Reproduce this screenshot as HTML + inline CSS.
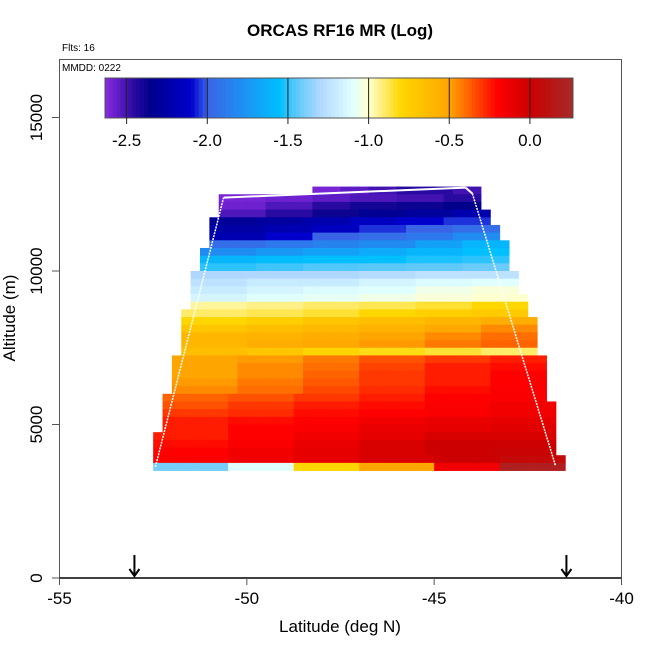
<!DOCTYPE html>
<html><head><meta charset="utf-8"><style>
body{margin:0;background:#fff;}
svg{display:block;font-family:"Liberation Sans",sans-serif;}
</style></head><body>
<svg id="chart" width="650" height="650" viewBox="0 0 650 650">
<text x="340" y="36" text-anchor="middle" font-size="17" font-weight="bold">ORCAS RF16 MR (Log)</text>
<text x="62" y="51" font-size="10">Flts: 16</text>
<g id="cells"></g>
<g id="track"></g>
<rect x="59.5" y="59.5" width="562" height="518.5" fill="none" stroke="#555" stroke-width="1"/>
<line x1="59.5" y1="578" x2="621.5" y2="578" stroke="#000" stroke-width="1.5"/>
<text x="62" y="71" font-size="10">MMDD: 0222</text>
<g id="cbar"></g>
<g id="axes"></g>
<g id="arrows"></g>
<text x="340" y="632" text-anchor="middle" font-size="17">Latitude (deg N)</text>
<text transform="translate(15,318) rotate(-90)" text-anchor="middle" font-size="17">Altitude (m)</text>
</svg>
<script>
const rowAlt=[12500,12250,12000,11750,11500,11250,11000,10750,10500,10250,10000,9750,9500,9250,9000,8750,8500,8250,8000,7750,7500,7250,7000,6750,6500,6250,6000,5750,5500,5250,5000,4750,4500,4250,4000,3750,3500];
const rowLatMin=[-48.25,-50.75,-50.75,-50.75,-51,-51,-51,-51,-51.25,-51.25,-51.25,-51.5,-51.5,-51.5,-51.5,-51.5,-51.75,-51.75,-51.75,-51.75,-51.75,-51.75,-52,-52,-52,-52,-52,-52.25,-52.25,-52.25,-52.25,-52.25,-52.5,-52.5,-52.5,-52.5,-52.5];
const rowLatMax=[-43.75,-43.75,-43.75,-43.5,-43.5,-43.25,-43.25,-43,-43,-43,-43,-42.75,-42.75,-42.75,-42.5,-42.5,-42.5,-42.25,-42.25,-42.25,-42.25,-42.25,-42,-42,-42,-42,-42,-42,-41.75,-41.75,-41.75,-41.75,-41.75,-41.75,-41.75,-41.5,-41.5];
const rowValues=[
[-2.6,-2.55,-2.5,-2.45,-2.45,-2.5],
[-2.6,-2.58,-2.55,-2.52,-2.5,-2.45],
[-2.58,-2.52,-2.45,-2.4,-2.38,-2.35],
[-2.52,-2.45,-2.38,-2.32,-2.28,-2.22],
[-2.3,-2.27,-2.22,-2.15,-2.1,-2.05],
[-2.25,-2.2,-2.15,-2.05,-2.0,-1.95],
[-2.2,-2.1,-2.0,-1.95,-1.9,-1.8],
[-1.95,-1.9,-1.85,-1.8,-1.7,-1.6],
[-1.8,-1.75,-1.7,-1.65,-1.6,-1.55],
[-1.6,-1.56,-1.55,-1.55,-1.52,-1.5],
[-1.5,-1.48,-1.46,-1.45,-1.44,-1.42],
[-1.3,-1.3,-1.3,-1.28,-1.25,-1.25],
[-1.25,-1.2,-1.2,-1.15,-1.12,-1.1],
[-1.2,-1.15,-1.12,-1.1,-1.05,-1.02],
[-1.15,-1.1,-1.08,-1.05,-1.02,-1.0],
[-0.95,-0.93,-0.9,-0.88,-0.85,-0.8],
[-0.9,-0.88,-0.85,-0.8,-0.75,-0.72],
[-0.8,-0.75,-0.7,-0.65,-0.6,-0.55],
[-0.7,-0.65,-0.62,-0.58,-0.52,-0.45],
[-0.6,-0.58,-0.55,-0.5,-0.45,-0.4],
[-0.6,-0.55,-0.52,-0.48,-0.42,-0.38],
[-0.65,-0.7,-0.78,-0.82,-0.85,-0.9],
[-0.5,-0.48,-0.42,-0.35,-0.3,-0.25],
[-0.5,-0.45,-0.4,-0.32,-0.25,-0.22],
[-0.5,-0.45,-0.38,-0.3,-0.25,-0.2],
[-0.48,-0.42,-0.36,-0.3,-0.25,-0.2],
[-0.45,-0.4,-0.33,-0.28,-0.22,-0.18],
[-0.38,-0.35,-0.3,-0.25,-0.2,-0.18],
[-0.35,-0.3,-0.25,-0.22,-0.18,-0.15],
[-0.3,-0.28,-0.22,-0.2,-0.18,-0.15],
[-0.25,-0.22,-0.2,-0.15,-0.12,-0.1],
[-0.25,-0.2,-0.18,-0.12,-0.1,-0.08],
[-0.25,-0.2,-0.15,-0.1,-0.05,-0.05],
[-0.22,-0.18,-0.12,-0.05,0.0,0.0],
[-0.2,-0.15,-0.1,-0.05,0.0,0.02],
[-0.18,-0.15,-0.1,-0.05,0.0,0.05],
[-1.4,-1.1,-0.8,-0.5,-0.15,0.2]];
const trackLat=[-52.44,-50.62,-44.16,-43.98,-41.76];
const trackAlt=[3620,12391,12717,12522,3652];
const arrowLat=[-53.0,-41.47];
const xTicks=[-55,-50,-45,-40];
const yTicks=[0,5000,10000,15000];
const cbarTicks=[-2.5,-2.0,-1.5,-1.0,-0.5,0.0];
const cbarMin=-2.634, cbarMax=0.267;
const cellLat=0.25, cellAlt=250;

const NS='http://www.w3.org/2000/svg';
const X=v=>59.5+(v+55)*(562/15);
const Y=v=>578-v*(460.5/15000);
const CB=v=>105+(v-cbarMin)/(cbarMax-cbarMin)*468;
const stops=[[-2.634,[138,43,226]],[-2.45,[40,10,160]],[-2.35,[0,0,139]],[-2.1,[0,0,205]],[-2.0,[58,100,230]],[-1.55,[0,191,255]],[-1.45,[90,200,250]],[-1.3,[176,216,255]],[-1.1,[224,255,255]],[-1.0,[255,255,208]],[-0.8,[255,215,0]],[-0.5,[255,165,0]],[-0.2,[255,0,0]],[0.0,[204,0,0]],[0.267,[165,42,42]]];
function color(v){
 if(v<=stops[0][0])return 'rgb('+stops[0][1]+')';
 for(let i=1;i<stops.length;i++){if(v<=stops[i][0]){const a=stops[i-1],b=stops[i];const t=(v-a[0])/(b[0]-a[0]);
 const c=a[1].map((x,k)=>Math.round(x+(b[1][k]-x)*t));return 'rgb('+c+')';}}
 return 'rgb('+stops[stops.length-1][1]+')';
}
function mk(tag,attrs,parent){const e=document.createElementNS(NS,tag);for(const k in attrs)e.setAttribute(k,attrs[k]);parent.appendChild(e);return e;}

const cells=document.getElementById('cells');
rowAlt.forEach((alt,r)=>{
 const vals=rowValues[r];const n=Math.round((rowLatMax[r]-rowLatMin[r])/cellLat);
 for(let c=0;c<n;c++){
  const lat=rowLatMin[r]+c*cellLat;
  const v=vals[Math.min(vals.length-1,Math.floor(c/n*vals.length))];
  const x0=X(lat),x1=X(lat+cellLat),y0=Y(alt+cellAlt),y1=Y(alt);
  const e=mk('rect',{x:x0,y:y0,width:x1-x0+0.4,height:y1-y0+0.4,fill:color(v)},cells);
  
  
 }
});

const track=document.getElementById('track');
for(let i=0;i<trackLat.length-1;i++){
 const slope=Math.abs(trackAlt[i+1]-trackAlt[i])>2000;
 const l=mk('line',{x1:X(trackLat[i]),y1:Y(trackAlt[i]),x2:X(trackLat[i+1]),y2:Y(trackAlt[i+1]),stroke:'#fff','stroke-width':slope?1.5:2,'stroke-dasharray':slope?'2,1':'none'},track);
 
 
}

const cb=document.getElementById('cbar');
const nb=120;
for(let i=0;i<nb;i++){
 const v=cbarMin+(i+0.5)/nb*(cbarMax-cbarMin);
 const x0=105+i*468/nb;
 const e=mk('rect',{x:x0,y:78,width:468/nb+0.5,height:40,fill:color(v)},cb);
 
 
}
const cbf=mk('rect',{x:105,y:78,width:468,height:40,fill:'none',stroke:'#555'},cb);


cbarTicks.forEach(t=>{
 const x=CB(t);
 const l=mk('line',{x1:x,y1:78,x2:x,y2:124,stroke:'#222','stroke-width':1},cb);
 
 
 const tx=mk('text',{x:x,y:146,'text-anchor':'middle','font-size':17},cb);
 tx.textContent=t.toFixed(1);
 
 
});

const ax=document.getElementById('axes');
xTicks.forEach(t=>{
 const x=X(t);
 const l=mk('line',{x1:x,y1:578,x2:x,y2:585,stroke:'#555'},ax);
 
 
 const tx=mk('text',{x:x,y:604,'text-anchor':'middle','font-size':17},ax);
 tx.textContent=String(t);
 
 
});
yTicks.forEach(t=>{
 const y=Y(t);
 const l=mk('line',{x1:52,y1:y,x2:59.5,y2:y,stroke:'#555'},ax);
 
 
 const tx=mk('text',{transform:'translate(42,'+y+') rotate(-90)','text-anchor':'middle','font-size':17},ax);
 tx.textContent=String(t);
 
 
});

const ar=document.getElementById('arrows');
arrowLat.forEach(lat=>{
 const x=X(lat);
 const p=mk('path',{d:'M'+x+' 555 L'+x+' 576 M'+(x-5)+' 569 L'+x+' 576 L'+(x+5)+' 569',stroke:'#000','stroke-width':2,fill:'none'},ar);
 
 
});
</script>
</body></html>
